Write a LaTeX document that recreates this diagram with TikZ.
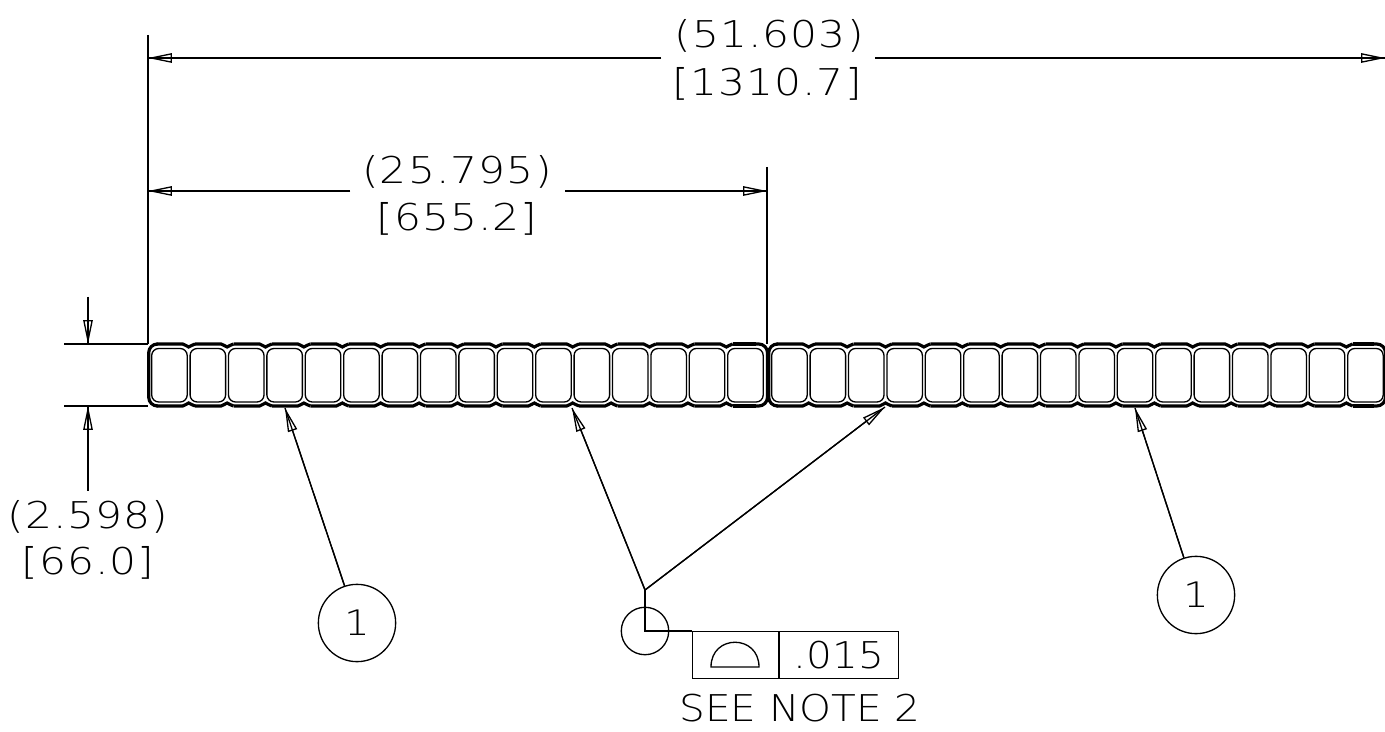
\documentclass[tikz,border=0pt]{standalone}
\usepackage{fontspec}
\setmainfont{DejaVu Sans ExtraLight}[FakeStretch=1.15, LetterSpace=3]
\newfontfamily\notefont{DejaVu Sans ExtraLight}[FakeStretch=1.1]
\usetikzlibrary{arrows.meta, positioning}
\tikzset{
    thinline/.style={line width=0.75pt},
    dimline/.style={thinline, -{Triangle[open,length=13.6pt,width=5.4pt]}, postaction={draw,-}},
    dimtext/.style={inner sep=0pt, font=\fontsize{21}{25}\selectfont},
    notetext/.style={inner sep=0pt, font=\notefont\fontsize{21}{25}\selectfont},
    balloon/.style={draw, thinline, circle, minimum size=44pt, inner sep=0pt, font=\fontsize{20}{24}\selectfont},
    hoseouter/.style={line width=1.8pt},
    hosecell/.style={line width=0.75pt, rounded corners=4pt}
}
\begin{document}
\begin{tikzpicture}[x=0.02cm, y=-0.02cm]  % one unit is one pixel of the drawing
    \useasboundingbox (0,0) rectangle (1385,732);
    % hose, two lengths of sixteen cells
    \foreach \segx/\endx in {151.7/767.5, 771.7/1385.5} {
        \draw[hoseouter, rounded corners=5pt] (\segx+5,344) -- (\segx-3,344) -- (\segx-3,406) -- (\segx+5,406);
        \draw[hoseouter, rounded corners=5pt] (\endx-12,344) -- (\endx,344) -- (\endx,406) -- (\endx-12,406);
        \foreach \i in {0,...,15} {
            \pgfmathsetmacro{\x}{\segx+38.4*\i}
            \draw[hosecell] (\x,348.5) rectangle (\x+35.5,402);
            \ifnum\i<15
                \draw[hoseouter] (\x+5,344) -- (\x+31,344) .. controls (\x+34,344) and (\x+34.5,347) .. (\x+37,347)
                    .. controls (\x+39.5,347) and (\x+40,344) .. (\x+43.4,344);
                \draw[hoseouter] (\x+5,406) -- (\x+31,406) .. controls (\x+34,406) and (\x+34.5,403) .. (\x+37,403)
                    .. controls (\x+39.5,403) and (\x+40,406) .. (\x+43.4,406);
            \else
                \draw[hoseouter] (\x+5,344) -- (\endx-12,344);
                \draw[hoseouter] (\x+5,406) -- (\endx-12,406);
            \fi
        }
    }
    % extension lines
    \coordinate (extA) at (148,35);
    \coordinate (extB) at (148,344);
    \coordinate (extC) at (767,167);
    \coordinate (extD) at (767,344);
    \coordinate (extE) at (64,344);
    \coordinate (extF) at (64,406);
    \coordinate (extG) at (148,406);
    \draw[thinline] (extA) -- (extB);
    \draw[thinline] (extC) -- (extD);
    \draw[thinline] (extE) -- (extB);
    \draw[thinline] (extF) -- (extG);
    % overall length
    \node[dimtext] (lenA) at (769,36) {(51.603)};
    \node[dimtext] (lenB) at (767,84) {[1310.7]};
    \coordinate (lenL) at (148,58);
    \coordinate (lenLgap) at (661,58);
    \coordinate (lenR) at (1385,58);
    \coordinate (lenRgap) at (875,58);
    \draw[dimline] (lenLgap) -- (lenL);
    \draw[dimline] (lenRgap) -- (lenR);
    % half length
    \node[dimtext] (halfA) at (457,172) {(25.795)};
    \node[dimtext] (halfB) at (457,219) {[655.2]};
    \coordinate (halfL) at (148,191);
    \coordinate (halfLgap) at (350,191);
    \coordinate (halfR) at (767,191);
    \coordinate (halfRgap) at (565,191);
    \draw[dimline] (halfLgap) -- (halfL);
    \draw[dimline] (halfRgap) -- (halfR);
    % width
    \node[dimtext] (wideA) at (88,517) {(2.598)};
    \node[dimtext] (wideB) at (88,563) {[66.0]};
    \coordinate (wideT) at (88,297);
    \coordinate (wideTtip) at (88,344);
    \coordinate (wideBtip) at (88,406);
    \coordinate (wideBend) at (88,491);
    \draw[dimline] (wideT) -- (wideTtip);
    \draw[dimline] (wideBend) -- (wideBtip);
    % item balloons
    \node[balloon] (itemA) at (357,623) {1};
    \node[balloon] (itemB) at (1196,595) {1};
    \coordinate (itemAtip) at (285,408);
    \coordinate (itemBtip) at (1135,408);
    \draw[dimline] (itemA) -- (itemAtip);
    \draw[dimline] (itemB) -- (itemBtip);
    % profile callout
    \coordinate (knee) at (645,590);
    \coordinate (kneeA) at (572,408);
    \coordinate (kneeB) at (885,407);
    \draw[dimline] (knee) -- (kneeA);
    \draw[dimline] (knee) -- (kneeB);
    \node[draw, thinline, circle, minimum size=27pt, inner sep=0pt] (allround) at (645,631) {};
    \node[draw, thinline, inner sep=0pt, anchor=north west,
        minimum width=48.8pt, minimum height=26.6pt] (symbolbox) at (692,631) {};
    \node[draw, thinline, inner sep=0pt, anchor=north west, font=\notefont\fontsize{21}{25}\selectfont,
        minimum width=67.5pt, minimum height=26.6pt] (valuebox) at (symbolbox.north east) {.015};
    \draw[thinline] (knee) -- (allround.center) -- (symbolbox.north west);
    \draw[thinline] (711,667) .. controls (711,634) and (759,634) .. (759,667) -- cycle;
    \node[notetext] (note) at (800,708) {SEE NOTE 2};
\end{tikzpicture}
\end{document}
